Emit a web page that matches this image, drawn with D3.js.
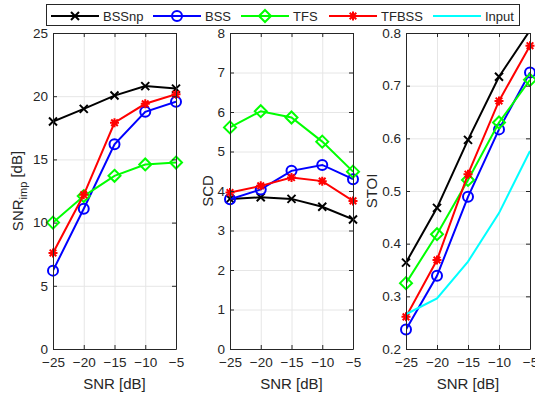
<!DOCTYPE html>
<html>
<head>
<meta charset="utf-8">
<script src="https://cdn.jsdelivr.net/npm/d3@7"></script>
<style>
  body { margin: 0; background: #fff; }
  svg { display: block; font-family: "Liberation Sans", Arial, sans-serif; }
</style>
</head>
<body>
<div id="chart"></div>
<script>
// x values shared by all three panels
const snr = [-25, -20, -15, -10, -5];
const seriesNames = ['BSSnp', 'BSS', 'TFS', 'TFBSS', 'Input'];

// SNR improvement [dB]
const snrImpBSSnp = [18.0, 19.0, 20.05, 20.8, 20.6];
const snrImpBSS   = [6.2, 11.1, 16.2, 18.77, 19.57];
const snrImpTFS   = [10.0, 12.1, 13.7, 14.6, 14.75];
const snrImpTFBSS = [7.6, 12.2, 17.9, 19.4, 20.15];

// SCD
const scdBSSnp = [3.80, 3.84, 3.80, 3.60, 3.28];
const scdBSS   = [3.79, 4.04, 4.51, 4.66, 4.30];
const scdTFS   = [5.61, 6.02, 5.86, 5.25, 4.49];
const scdTFBSS = [3.96, 4.13, 4.34, 4.25, 3.75];

// STOI
const stoiBSSnp = [0.364, 0.468, 0.597, 0.717, 0.805];
const stoiBSS   = [0.237, 0.339, 0.489, 0.617, 0.725];
const stoiTFS   = [0.325, 0.418, 0.521, 0.630, 0.711];
const stoiTFBSS = [0.261, 0.369, 0.532, 0.671, 0.776];
const stoiInput = [0.266, 0.296, 0.366, 0.458, 0.576];

const xTicks = [-25, -20, -15, -10, -5];
const snrImpTicks = [0, 5, 10, 15, 20, 25];
const scdTicks = [0, 1, 2, 3, 4, 5, 6, 7, 8];
const stoiTicks = [0.2, 0.3, 0.4, 0.5, 0.6, 0.7, 0.8];

const W = 535, H = 397;
const plotTop = 33, plotBottom = 349;
const ink = '#262626';

const style = {
  BSSnp: {color: '#000000', marker: 'x'},
  BSS:   {color: '#0000ff', marker: 'o'},
  TFS:   {color: '#00ff00', marker: 'd'},
  TFBSS: {color: '#ff0000', marker: '*'},
  Input: {color: '#00ffff', marker: null}
};

const panels = [
  {left: 53, right: 176, domain: [0, 25], ticks: snrImpTicks, fmt: d3.format('d'), label: 'snrimp', labelX: 23,
   series: {BSSnp: snrImpBSSnp, BSS: snrImpBSS, TFS: snrImpTFS, TFBSS: snrImpTFBSS}},
  {left: 230, right: 353, domain: [0, 8], ticks: scdTicks, fmt: d3.format('d'), label: 'SCD', labelX: 213,
   series: {BSSnp: scdBSSnp, BSS: scdBSS, TFS: scdTFS, TFBSS: scdTFBSS}},
  {left: 406, right: 530, domain: [0.2, 0.8], ticks: stoiTicks, fmt: d3.format('.1f'), label: 'STOI', labelX: 377,
   series: {BSSnp: stoiBSSnp, BSS: stoiBSS, TFS: stoiTFS, TFBSS: stoiTFBSS, Input: stoiInput}}
];

const svg = d3.select('#chart').append('svg')
  .attr('width', W)
  .attr('height', H);

function drawMarker(g, type, cx, cy, color) {
  if (!type) return;
  const m = g.append('g').attr('transform', `translate(${cx},${cy})`)
    .attr('stroke', color).attr('stroke-width', 2).attr('fill', 'none');
  if (type === 'x') {
    const s = 4;
    m.append('path').attr('d', `M${-s},${-s}L${s},${s}M${-s},${s}L${s},${-s}`);
  } else if (type === 'o') {
    m.append('circle').attr('r', 5);
  } else if (type === 'd') {
    const s = 6;
    m.append('path').attr('d', `M0,${-s}L${s},0L0,${s}L${-s},0Z`);
  } else if (type === '*') {
    const s = 4.5, t = 3.3;
    m.append('path').attr('d', `M${-s},0L${s},0M0,${-s}L0,${s}M${-t},${-t}L${t},${t}M${-t},${t}L${t},${-t}`);
  }
}

panels.forEach((p, i) => {
  const x = d3.scaleLinear().domain([-25, -5]).range([p.left, p.right]);
  const y = d3.scaleLinear().domain(p.domain).range([plotBottom, plotTop]);
  const w = p.right - p.left, h = plotBottom - plotTop;
  const g = svg.append('g');

  // grid
  g.append('g').attr('transform', `translate(0,${plotBottom})`)
    .call(d3.axisBottom(x).tickValues(xTicks).tickSize(-h).tickFormat(''))
    .call(a => a.select('.domain').remove())
    .selectAll('line').attr('stroke', '#e6e6e6');
  g.append('g').attr('transform', `translate(${p.left},0)`)
    .call(d3.axisLeft(y).tickValues(p.ticks).tickSize(-w).tickFormat(''))
    .call(a => a.select('.domain').remove())
    .selectAll('line').attr('stroke', '#e6e6e6');

  // data lines (clipped to the axes box)
  const clipId = 'clip' + i;
  svg.append('clipPath').attr('id', clipId)
    .append('rect').attr('x', p.left).attr('y', plotTop).attr('width', w).attr('height', h);

  const line = d3.line().x((d, k) => x(snr[k])).y(d => y(d));
  const plot = g.append('g');
  seriesNames.forEach(name => {
    const vals = p.series[name];
    if (!vals) return;
    const st = style[name];
    plot.append('path')
      .attr('clip-path', `url(#${clipId})`)
      .attr('d', line(vals))
      .attr('fill', 'none')
      .attr('stroke', st.color)
      .attr('stroke-width', 2);
    vals.forEach((v, k) => {
      if (v < p.domain[0] || v > p.domain[1]) return;
      drawMarker(plot, st.marker, x(snr[k]), y(v), st.color);
    });
  });

  // axes with inward ticks on all sides
  g.append('g').attr('transform', `translate(0,${plotBottom})`)
    .call(d3.axisBottom(x).tickValues(xTicks).tickSizeInner(-4).tickSizeOuter(0).tickPadding(8));
  g.append('g').attr('transform', `translate(${p.left},0)`)
    .call(d3.axisLeft(y).tickValues(p.ticks).tickFormat(p.fmt).tickSizeInner(-4).tickSizeOuter(0).tickPadding(5));
  g.append('g').attr('transform', `translate(0,${plotTop})`)
    .call(d3.axisTop(x).tickValues(xTicks).tickSizeInner(-4).tickSizeOuter(0).tickFormat(''));
  g.append('g').attr('transform', `translate(${p.right},0)`)
    .call(d3.axisRight(y).tickValues(p.ticks).tickSizeInner(-4).tickSizeOuter(0).tickFormat(''));
  g.selectAll('.domain, .tick line').filter(function() {
    return d3.select(this).attr('stroke') !== '#e6e6e6';
  }).attr('stroke', ink).attr('stroke-width', 1);
  g.selectAll('.tick text').attr('fill', ink).style('font-size', '13.5px')
    .style('font-family', '"Liberation Sans", Arial, sans-serif');

  // axis labels
  g.append('text')
    .attr('x', (p.left + p.right) / 2).attr('y', 389)
    .attr('text-anchor', 'middle').attr('fill', ink).style('font-size', '15px')
    .text('SNR [dB]');
  const yl = g.append('text')
    .attr('transform', `translate(${p.labelX},${(plotTop + plotBottom) / 2}) rotate(-90)`)
    .attr('text-anchor', 'middle').attr('fill', ink).style('font-size', '15px');
  if (p.label === 'snrimp') {
    yl.append('tspan').text('SNR');
    yl.append('tspan').attr('dy', '0.35em').style('font-size', '11px').text('imp');
    yl.append('tspan').attr('dy', '-0.35em').text(' [dB]');
  } else {
    yl.text(p.label);
  }
});

// legend
const legend = svg.append('g');
legend.append('rect')
  .attr('x', 46.5).attr('y', 4.5).attr('width', 473).attr('height', 21)
  .attr('fill', '#fff').attr('stroke', ink).attr('stroke-width', 1);
const legendX = [51, 153, 241, 329, 433];
seriesNames.forEach((name, k) => {
  const st = style[name];
  const x0 = legendX[k];
  legend.append('line')
    .attr('x1', x0).attr('x2', x0 + 48).attr('y1', 16).attr('y2', 16)
    .attr('stroke', st.color).attr('stroke-width', 2);
  drawMarker(legend, st.marker, x0 + 24, 16, st.color);
  legend.append('text')
    .attr('x', x0 + 52).attr('y', 20.5)
    .attr('fill', ink).style('font-size', '13px')
    .text(name);
});
</script>
</body>
</html>
